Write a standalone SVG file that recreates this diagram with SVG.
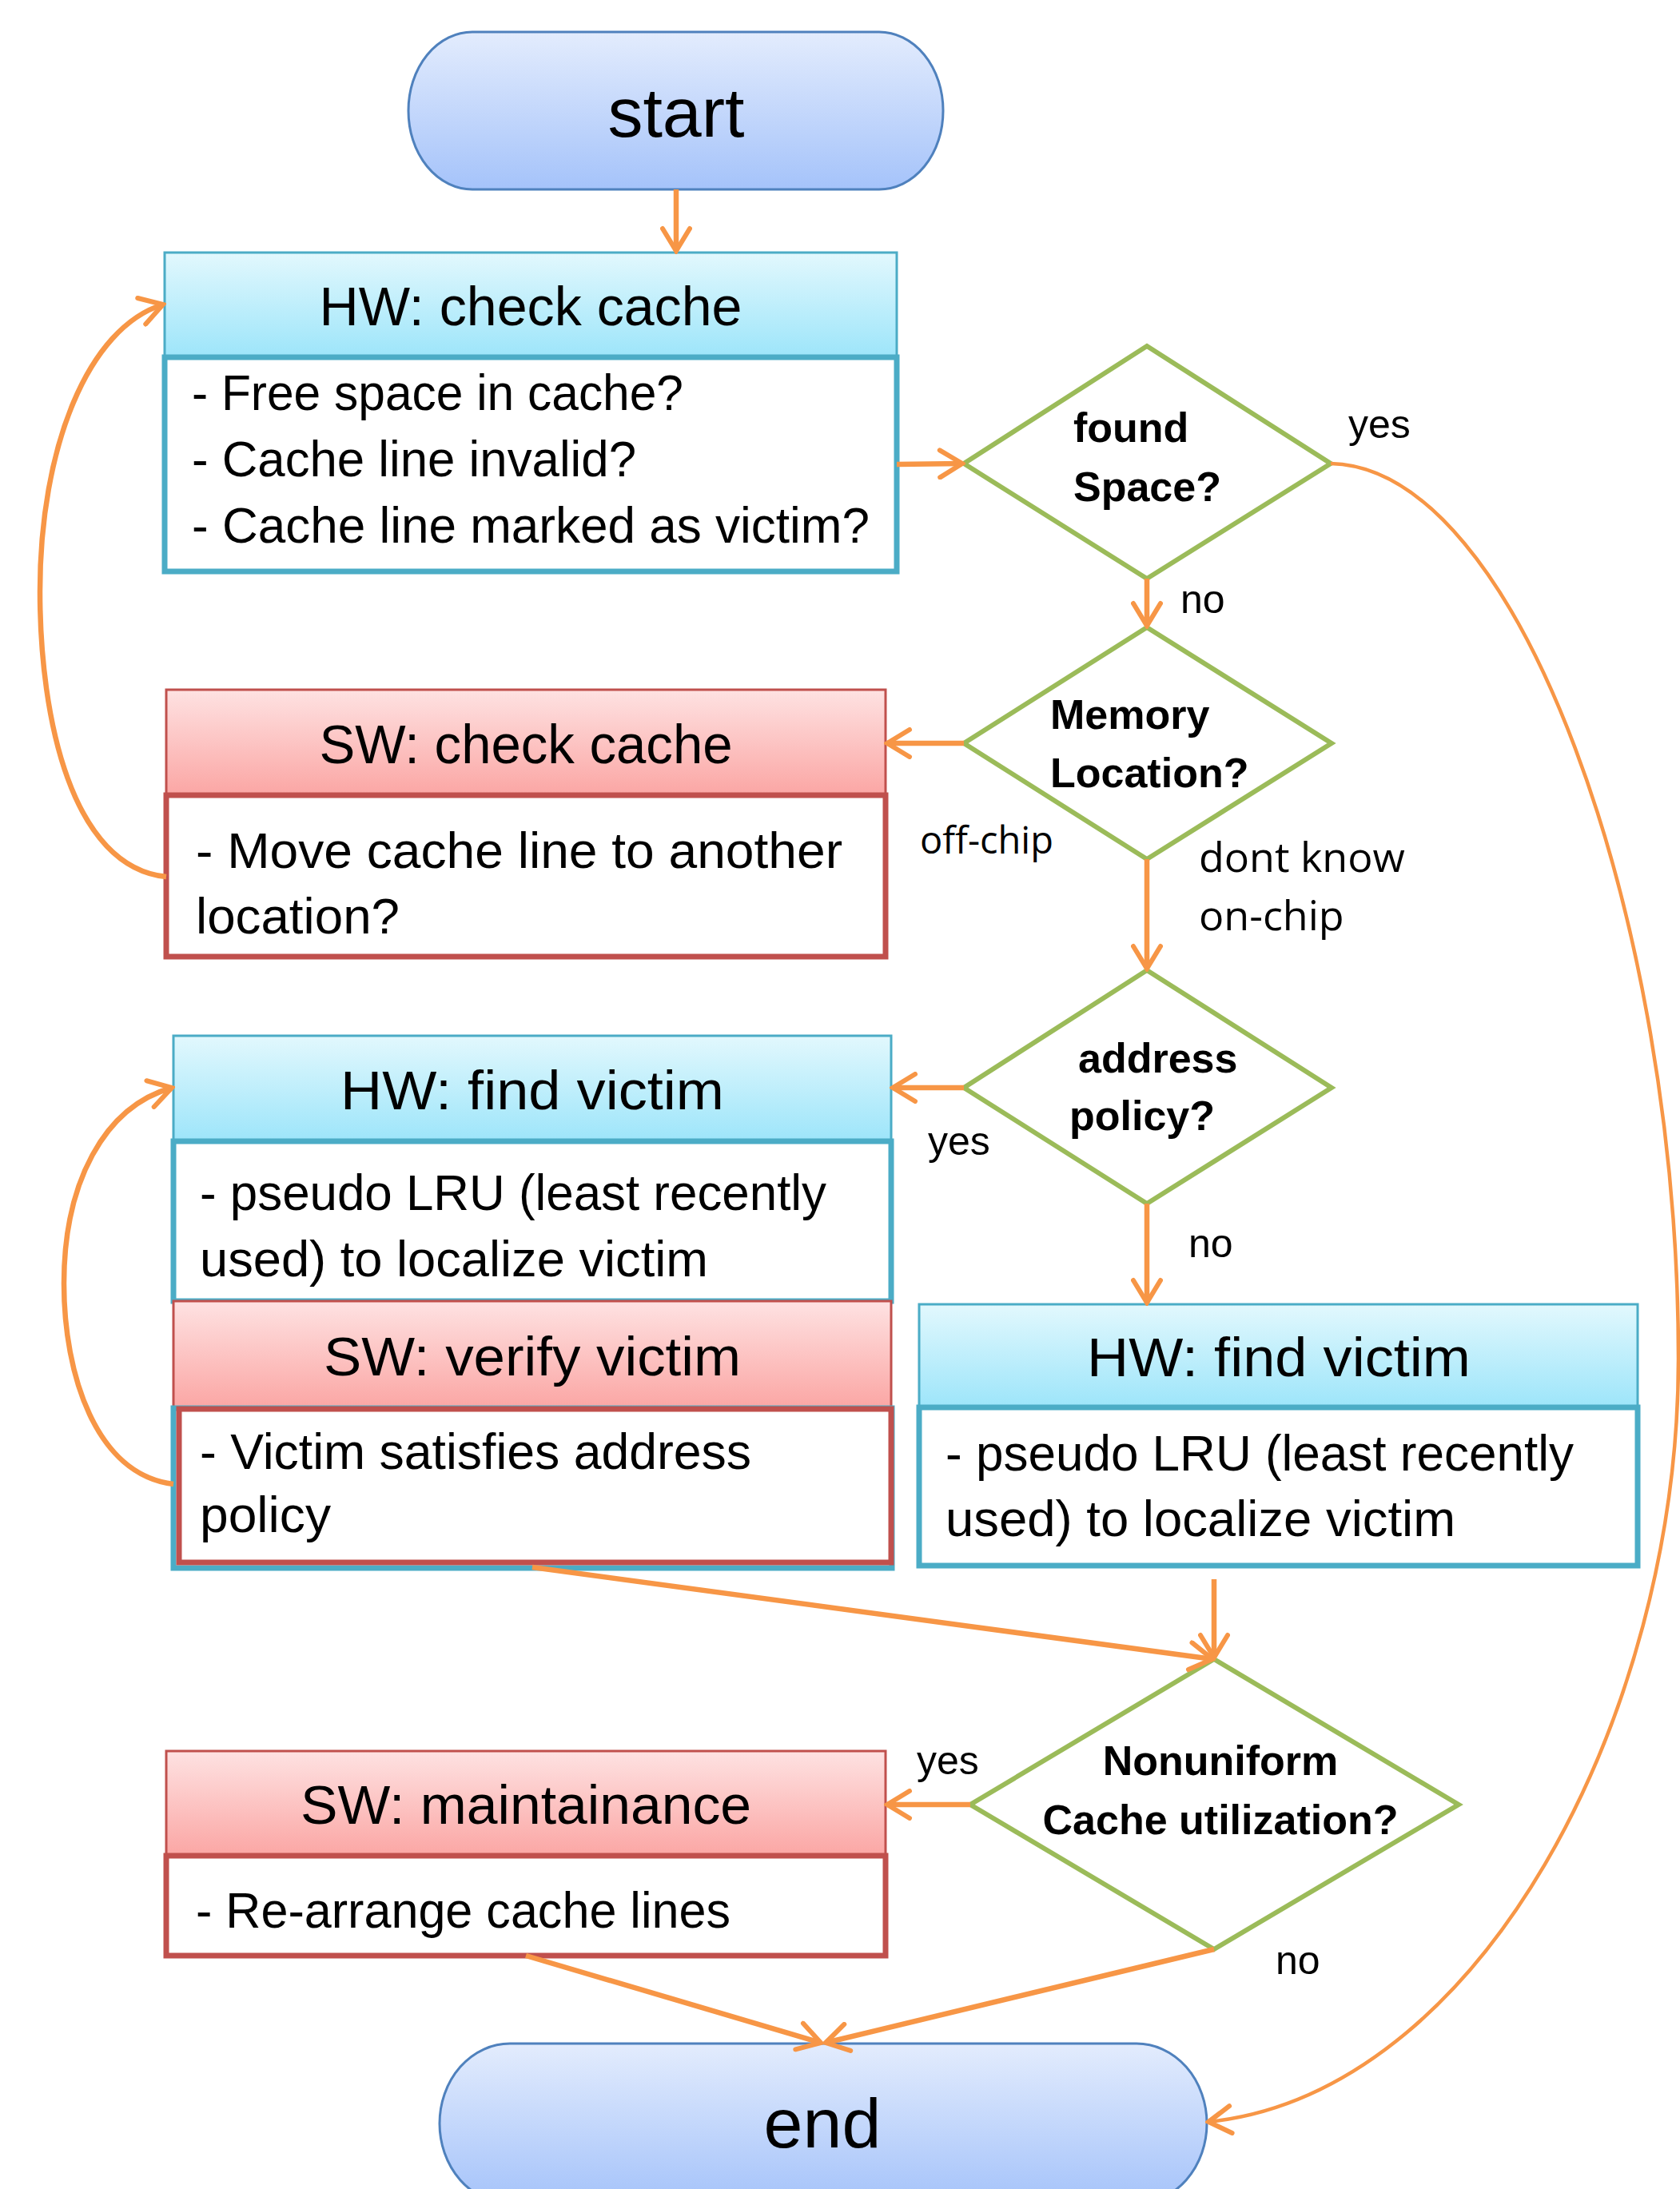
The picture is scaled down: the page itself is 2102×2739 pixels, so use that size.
<svg xmlns="http://www.w3.org/2000/svg" width="2102" height="2739" viewBox="0 0 2102 2739">
<defs>
  <linearGradient id="gTerm" x1="0" y1="0" x2="0" y2="1">
    <stop offset="0" stop-color="#e3ecfd"/>
    <stop offset="1" stop-color="#a5c3fa"/>
  </linearGradient>
  <linearGradient id="gHW" x1="0" y1="0" x2="0" y2="1">
    <stop offset="0" stop-color="#e2f8fd"/>
    <stop offset="1" stop-color="#9de5fa"/>
  </linearGradient>
  <linearGradient id="gSW" x1="0" y1="0" x2="0" y2="1">
    <stop offset="0" stop-color="#fee2e2"/>
    <stop offset="1" stop-color="#fba6a4"/>
  </linearGradient>
  <marker id="ah" viewBox="0 0 36 40" refX="32" refY="20" markerWidth="36" markerHeight="40" markerUnits="userSpaceOnUse" orient="auto">
    <path d="M4,3 L32,20 L4,37" fill="none" stroke="#f79646" stroke-width="6" stroke-linecap="round" stroke-linejoin="miter"/>
  </marker>
</defs>
<style>
  .t{font-family:"Liberation Sans",Arial,sans-serif;fill:#000}
  .title{font-size:69px;text-anchor:middle}
  .body{font-size:63px}
  .q{font-size:52px;font-weight:bold}
  .lbl{font-size:50px}
  .os{font-family:"Open Sans","Liberation Sans",sans-serif;fill:#000}
  .term{font-size:88px;text-anchor:middle}
  .termbox{fill:url(#gTerm);stroke:#4f81bd;stroke-width:3}
  .hwh{fill:url(#gHW);stroke:#4bacc6;stroke-width:3}
  .hwb{fill:#fff;stroke:#4bacc6;stroke-width:7}
  .swh{fill:url(#gSW);stroke:#c0504d;stroke-width:3}
  .swb{fill:#fff;stroke:#c0504d;stroke-width:7}
  .dia{fill:#fff;stroke:#9bbb59;stroke-width:6;stroke-linejoin:miter}
  .c{fill:none;stroke:#f79646;stroke-width:6.5;marker-end:url(#ah)}
  .cthin{fill:none;stroke:#f79646;stroke-width:4.5;marker-end:url(#ah)}
</style>
<rect width="2102" height="2739" fill="#fff"/>

<g id="start">
  <rect class="termbox" x="511" y="40" width="669" height="197" rx="80" ry="98"/>
  <text class="t term" x="846" y="171">start</text>
</g>

<g id="hw-check-cache">
  <rect class="hwh" x="206" y="316" width="916" height="131"/>
  <text class="t title" x="664" y="407" textLength="529" lengthAdjust="spacingAndGlyphs">HW: check cache</text>
  <rect class="hwb" x="206" y="447" width="916" height="268"/>
  <text class="t body" x="240" y="513" textLength="615" lengthAdjust="spacingAndGlyphs">- Free space in cache?</text>
  <text class="t body" x="240" y="596" textLength="556" lengthAdjust="spacingAndGlyphs">- Cache line invalid?</text>
  <text class="t body" x="240" y="679" textLength="848" lengthAdjust="spacingAndGlyphs">- Cache line marked as victim?</text>
</g>

<g id="found-space">
  <polygon class="dia" points="1435,433 1665,580 1435,724 1206,580"/>
  <text class="t q" x="1343" y="553">found</text>
  <text class="t q" x="1343" y="627">Space?</text>
</g>

<g id="sw-check-cache">
  <rect class="swh" x="208" y="863" width="900" height="132"/>
  <text class="t title" x="658" y="955" textLength="517" lengthAdjust="spacingAndGlyphs">SW: check cache</text>
  <rect class="swb" x="208" y="995" width="900" height="202"/>
  <text class="t body" x="245" y="1086" textLength="809" lengthAdjust="spacingAndGlyphs">- Move cache line to another</text>
  <text class="t body" x="245" y="1168" textLength="255" lengthAdjust="spacingAndGlyphs">location?</text>
</g>

<g id="memory-location">
  <polygon class="dia" points="1435,785 1666,930 1435,1075 1206,930"/>
  <text class="t q" x="1314" y="912">Memory</text>
  <text class="t q" x="1314" y="985">Location?</text>
</g>

<g id="address-policy">
  <polygon class="dia" points="1435,1214 1666,1361 1435,1506 1206,1361"/>
  <text class="t q" x="1349" y="1342">address</text>
  <text class="t q" x="1338" y="1414">policy?</text>
</g>

<g id="hw-find-victim-left">
  <rect class="hwh" x="217" y="1296" width="898" height="132"/>
  <text class="t title" x="666" y="1388" textLength="480" lengthAdjust="spacingAndGlyphs">HW: find victim</text>
  <rect class="hwb" x="217" y="1428" width="898" height="200"/>
  <text class="t body" x="250" y="1514" textLength="784" lengthAdjust="spacingAndGlyphs">- pseudo LRU (least recently</text>
  <text class="t body" x="250" y="1597" textLength="636" lengthAdjust="spacingAndGlyphs">used) to localize victim</text>
</g>

<g id="sw-verify-victim">
  <rect class="swh" x="217" y="1628" width="898" height="134"/>
  <text class="t title" x="666" y="1721" textLength="522" lengthAdjust="spacingAndGlyphs">SW: verify victim</text>
  <rect class="hwb" x="217" y="1762" width="899" height="200"/>
  <rect class="swb" x="224" y="1763" width="891" height="192"/>
  <text class="t body" x="250" y="1838" textLength="690" lengthAdjust="spacingAndGlyphs">- Victim satisfies address</text>
  <text class="t body" x="250" y="1917" textLength="164" lengthAdjust="spacingAndGlyphs">policy</text>
</g>

<g id="hw-find-victim-right">
  <rect class="hwh" x="1150" y="1632" width="899" height="129"/>
  <text class="t title" x="1600" y="1722" textLength="480" lengthAdjust="spacingAndGlyphs">HW: find victim</text>
  <rect class="hwb" x="1150" y="1761" width="899" height="198"/>
  <text class="t body" x="1183" y="1840" textLength="786" lengthAdjust="spacingAndGlyphs">- pseudo LRU (least recently</text>
  <text class="t body" x="1183" y="1922" textLength="638" lengthAdjust="spacingAndGlyphs">used) to localize victim</text>
</g>

<g id="nonuniform">
  <polygon class="dia" points="1519,2076 1825,2258 1519,2439 1214,2258"/>
  <text class="t q" x="1527" y="2221" text-anchor="middle">Nonuniform</text>
  <text class="t q" x="1527" y="2295" text-anchor="middle">Cache utilization?</text>
</g>

<g id="sw-maintainance">
  <rect class="swh" x="208" y="2191" width="900" height="131"/>
  <text class="t title" x="658" y="2282" textLength="564" lengthAdjust="spacingAndGlyphs">SW: maintainance</text>
  <rect class="swb" x="208" y="2322" width="900" height="125"/>
  <text class="t body" x="245" y="2412" textLength="669" lengthAdjust="spacingAndGlyphs">- Re-arrange cache lines</text>
</g>

<g id="end">
  <rect class="termbox" x="550" y="2557" width="960" height="200" rx="88" ry="100"/>
  <text class="t term" x="1029" y="2687">end</text>
</g>

<g id="connectors">
  <path class="c" d="M846,237 L846,314"/>
  <path class="c" d="M1122,581 L1204,580"/>
  <path class="c" d="M1435,724 L1435,783"/>
  <path class="c" d="M1206,930 L1110,930"/>
  <path class="c" d="M1435,1075 L1435,1212"/>
  <path class="c" d="M1206,1361 L1117,1361"/>
  <path class="c" d="M1435,1506 L1435,1630"/>
  <path class="c" d="M1519,1976 L1519,2074"/>
  <path class="c" d="M666,1961 L1517,2076"/>
  <path class="c" d="M1214,2258 L1110,2258"/>
  <path class="c" d="M658,2447 L1027,2556"/>
  <path class="c" d="M1519,2439 L1033,2556"/>
  <path class="c" d="M208,1097 C90,1085 50,900 50,740 C50,560 110,410 204,381"/>
  <path class="c" d="M217,1857 C120,1845 80,1720 80,1606 C80,1480 130,1385 215,1361"/>
  <path class="cthin" d="M1665,580 C1900,585 2100,1150 2100,1700 C2100,2150 1850,2620 1512,2655"/>
  <text class="t lbl" x="1687" y="548">yes</text>
  <text class="t lbl" x="1477" y="767">no</text>
  <text class="os" x="1151" y="1068" font-size="47">off-chip</text>
  <text class="os" x="1500" y="1091" font-size="52">dont know</text>
  <text class="os" x="1500" y="1164" font-size="52">on-chip</text>
  <text class="t lbl" x="1161" y="1445">yes</text>
  <text class="t lbl" x="1487" y="1573">no</text>
  <text class="t lbl" x="1147" y="2220">yes</text>
  <text class="t lbl" x="1596" y="2470">no</text>
</g>
</svg>
